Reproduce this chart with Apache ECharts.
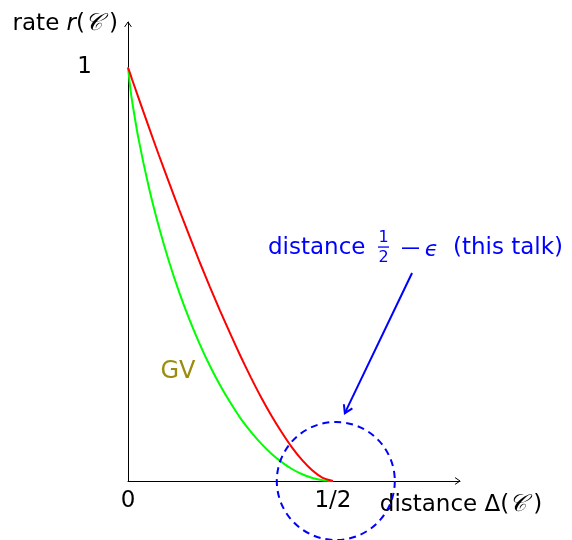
<!DOCTYPE html>
<html>
<head>
<meta charset="utf-8">
<script src="https://cdn.jsdelivr.net/npm/echarts@6/dist/echarts.min.js"></script>
<style>
  html, body { margin: 0; padding: 0; background: #fff; }
  #chart { width: 572px; height: 540px; }
</style>
</head>
<body>
<div id="chart"></div>
<script>
// relative distance (x) and rate (y) samples of the two bounds
const delta = [0, 0.005, 0.01, 0.025, 0.05, 0.075, 0.1, 0.125, 0.15, 0.175, 0.2, 0.225,
               0.25, 0.275, 0.3, 0.325, 0.35, 0.375, 0.4, 0.425, 0.45, 0.475, 0.5];
// Gilbert–Varshamov curve (green)
const gvRate = [1, 0.955, 0.919, 0.831, 0.714, 0.616, 0.531, 0.456, 0.390, 0.331, 0.278, 0.231,
                0.189, 0.151, 0.119, 0.0905, 0.066, 0.0456, 0.029, 0.0163, 0.0072, 0.0018, 0];
// upper curve (red)
const upperRate = [1, 0.986, 0.971, 0.9285, 0.858, 0.789, 0.722, 0.656, 0.592, 0.529, 0.469, 0.411,
                   0.355, 0.301, 0.250, 0.202, 0.158, 0.118, 0.0815, 0.0504, 0.0253, 0.0076, 0];

const xTickValues = [0, 0.5];
const xTickLabels = ['0', '1/2'];
const yTickValues = [1];
const yTickLabels = ['1'];

const FONT = "'DejaVu Sans', sans-serif";
const FS = 23;
const BLUE = '#0000ff';

const chart = echarts.init(document.getElementById('chart'), null, { renderer: 'canvas' });
const pairs = (xs, ys) => xs.map((x, i) => [x, ys[i]]);

// calligraphic C inside the axis names, with room for its swash on the right
const calC = { fontFamily: "'DejaVu Serif', serif", fontStyle: 'italic', fontSize: 24, color: '#000', padding: [0, 7, 0, 0] };

chart.setOption({
  animation: false,
  backgroundColor: '#fff',
  grid: { left: 128, right: 112, top: 22, bottom: 59 },
  xAxis: {
    type: 'value', min: 0, max: 0.81,
    splitLine: { show: false },
    axisTick: { show: false },
    axisLine: { lineStyle: { color: '#000', width: 1 } },
    axisLabel: {
      customValues: xTickValues,
      formatter: v => xTickLabels[xTickValues.indexOf(v)],
      fontFamily: FONT, fontSize: FS, color: '#000', margin: 9
    },
    name: '{t|distance Δ(}{c|𝒞}{t|)}',
    nameLocation: 'end', nameGap: 1,
    nameTextStyle: {
      align: 'center', verticalAlign: 'top', padding: [12, 0, 0, 0],
      rich: {
        t: { fontFamily: FONT, fontSize: FS, color: '#000' },
        c: calC
      }
    }
  },
  yAxis: {
    type: 'value', min: 0, max: 1.11,
    splitLine: { show: false },
    axisTick: { show: false },
    axisLine: { lineStyle: { color: '#000', width: 1 } },
    axisLabel: {
      customValues: yTickValues,
      formatter: v => yTickLabels[yTickValues.indexOf(v)],
      fontFamily: FONT, fontSize: FS, color: '#000', margin: 36
    },
    name: '{t|rate }{i|r}{t|(}{c|𝒞}{t|)}',
    nameLocation: 'end', nameGap: 0,
    nameTextStyle: {
      align: 'right', verticalAlign: 'middle', padding: [4, 10, 0, 0],
      rich: {
        t: { fontFamily: FONT, fontSize: FS, color: '#000' },
        i: { fontFamily: FONT, fontStyle: 'italic', fontSize: FS, color: '#000' },
        c: calC
      }
    }
  },
  series: [
    {
      name: 'GV', type: 'line', data: pairs(delta, gvRate),
      showSymbol: false, smooth: 0.2,
      lineStyle: { color: '#00ff00', width: 2 }, z: 3
    },
    {
      name: 'upper', type: 'line', data: pairs(delta, upperRate),
      showSymbol: false, smooth: 0.2,
      lineStyle: { color: '#ff0000', width: 2 }, z: 4
    }
  ]
});

// annotation anchors in data coordinates
const circleCenter = [0.507, 0];
const circleRadius = 59;
const arrowFrom = [0.693, 0.503];
const arrowTo = [0.529, 0.164];
const gvLabelAt = [0.122, 0.264];

const P = p => chart.convertToPixel({ gridIndex: 0 }, p);

function chevron(tip, from, len, ang) {
  const dx = tip[0] - from[0], dy = tip[1] - from[1];
  const d = Math.hypot(dx, dy), ux = dx / d, uy = dy / d;
  const rot = a => [ux * Math.cos(a) - uy * Math.sin(a), ux * Math.sin(a) + uy * Math.cos(a)];
  const a1 = rot(ang), a2 = rot(-ang);
  return [[tip[0] - a1[0] * len, tip[1] - a1[1] * len], tip, [tip[0] - a2[0] * len, tip[1] - a2[1] * len]];
}

const xEnd = P([0.81, 0]);
const yEnd = P([0, 1.11]);
const origin = P([0, 0]);
const cc = P(circleCenter);
const a0 = P(arrowFrom);
const a1 = P(arrowTo);
const gv = P(gvLabelAt);

const blueText = (text, x, y, font, align) => ({
  type: 'text', x, y, silent: true, z: 10,
  style: { text, fill: BLUE, font, textAlign: align, textVerticalAlign: 'middle' }
});

chart.setOption({
  graphic: [
    { type: 'polyline', shape: { points: chevron(xEnd, origin, 6, 0.6) }, style: { stroke: '#000', lineWidth: 1, fill: null } },
    { type: 'polyline', shape: { points: chevron(yEnd, origin, 6, 0.6) }, style: { stroke: '#000', lineWidth: 1, fill: null } },
    {
      type: 'circle', shape: { cx: cc[0], cy: cc[1], r: circleRadius }, z: 10,
      style: { fill: null, stroke: BLUE, lineWidth: 2, lineDash: [7, 5] }
    },
    { type: 'line', shape: { x1: a0[0], y1: a0[1], x2: a1[0], y2: a1[1] }, z: 10, style: { stroke: BLUE, lineWidth: 2 } },
    { type: 'polyline', shape: { points: chevron(a1, a0, 9, 0.55) }, z: 10, style: { stroke: BLUE, lineWidth: 2, fill: null } },
    {
      type: 'text', x: gv[0], y: gv[1], silent: true,
      style: { text: 'GV', fill: '#9a8c0c', font: `${FS + 1}px ${FONT}`, textAlign: 'center', textVerticalAlign: 'middle' }
    },
    blueText('distance', 268, 248, `${FS}px ${FONT}`, 'left'),
    blueText('1', 383.5, 238, `16px ${FONT}`, 'center'),
    { type: 'rect', shape: { x: 378, y: 246.4, width: 11, height: 1.3 }, z: 10, style: { fill: BLUE } },
    blueText('2', 383.5, 258, `16px ${FONT}`, 'center'),
    { type: 'rect', shape: { x: 402, y: 247.4, width: 17, height: 1.6 }, z: 10, style: { fill: BLUE } },
    blueText('ϵ', 431.5, 250, `italic ${FS - 1}px ${FONT}`, 'center'),
    blueText('(this talk)', 453, 248, `${FS}px ${FONT}`, 'left')
  ]
});
</script>
</body>
</html>
